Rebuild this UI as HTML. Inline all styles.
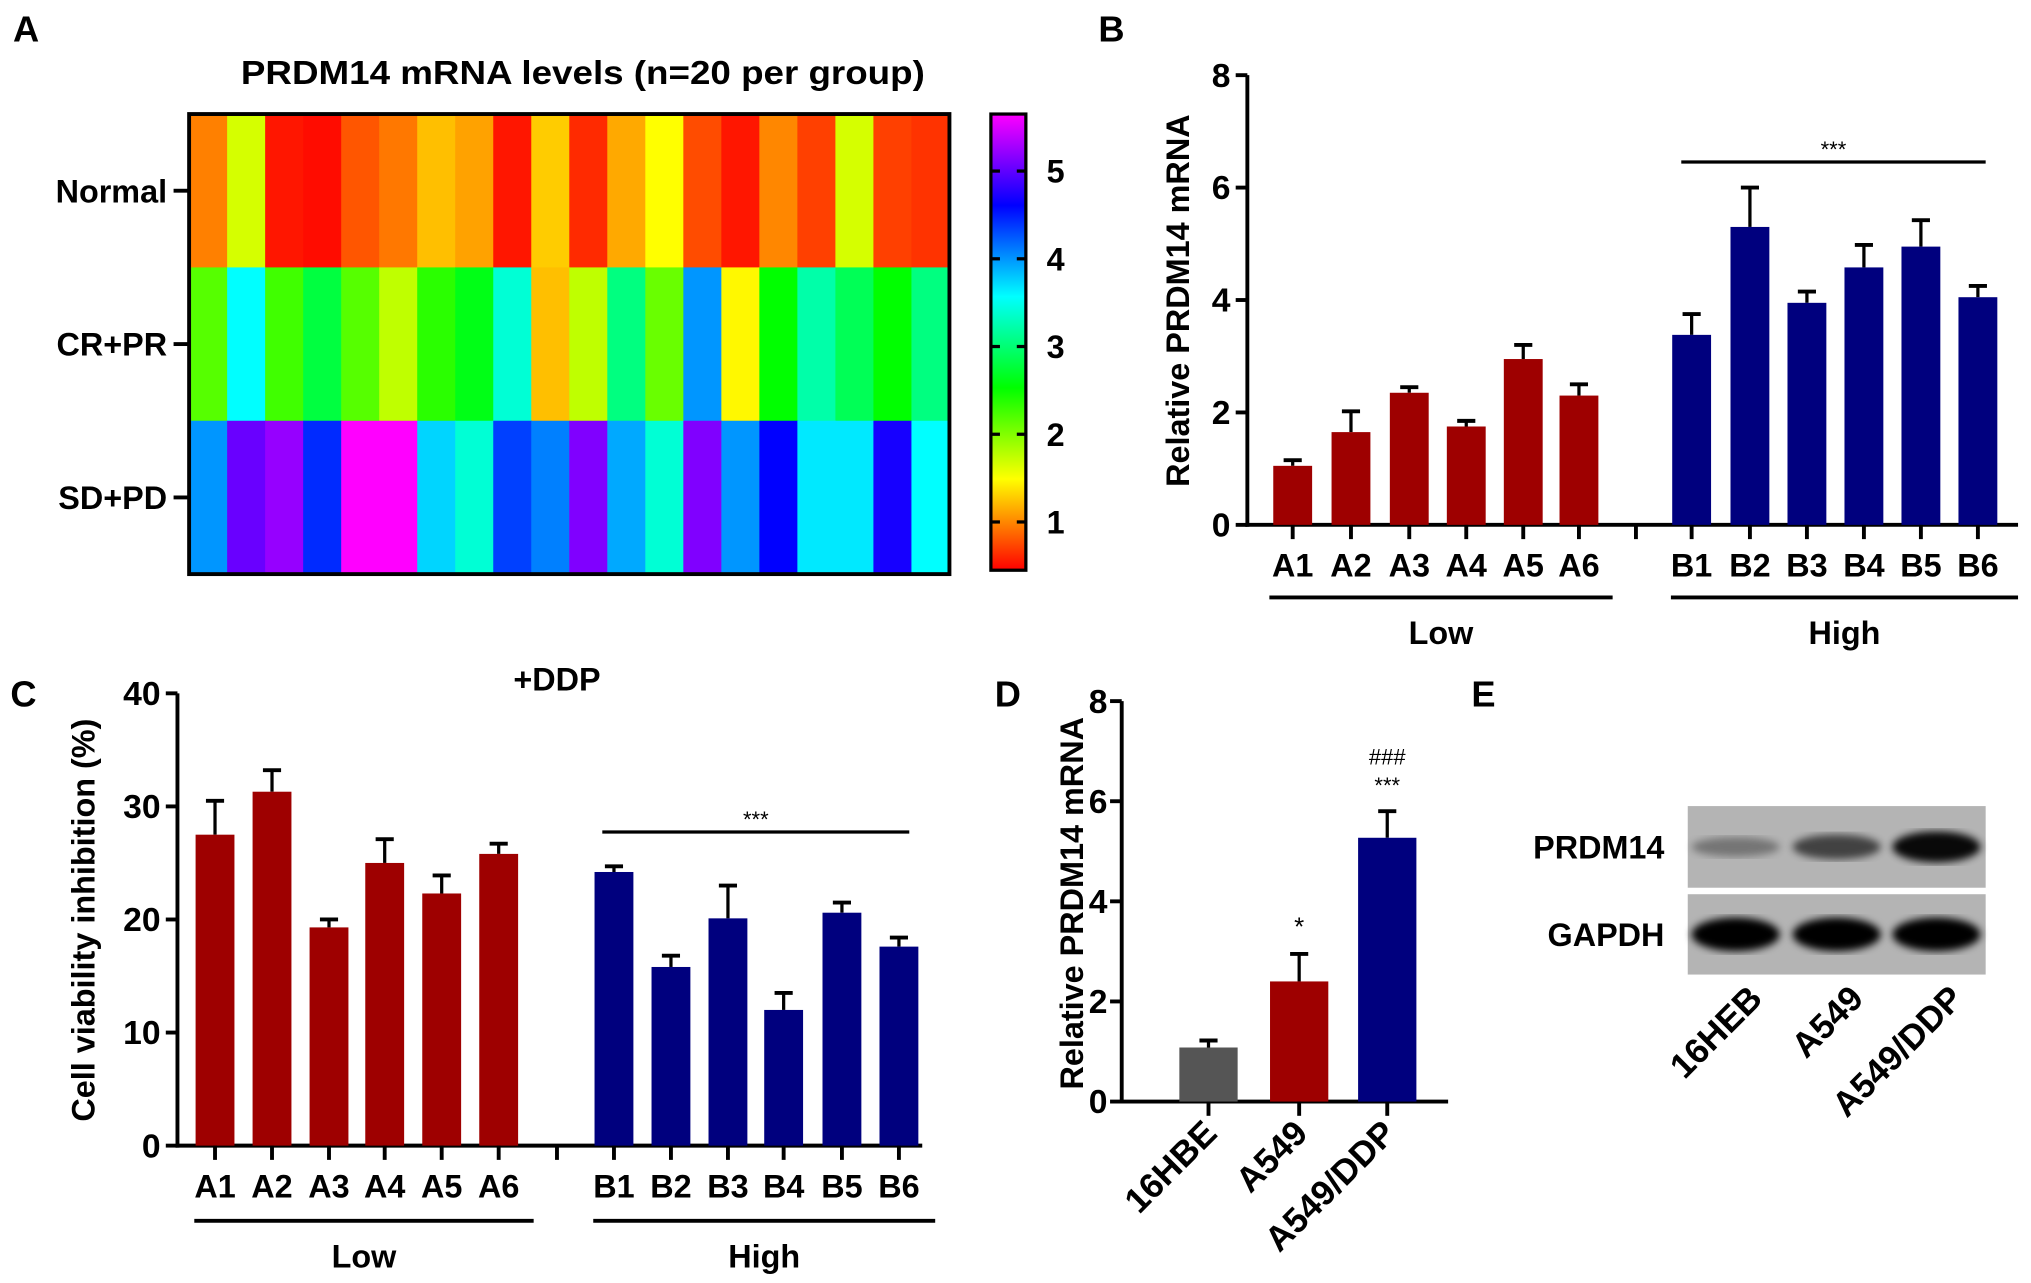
<!DOCTYPE html>
<html><head><meta charset="utf-8">
<style>
html,body{margin:0;padding:0;background:#fff;}
svg{display:block;font-family:"Liberation Sans",Arial,sans-serif;font-weight:bold;}
</style></head>
<body>
<svg id="fig" width="2031" height="1283" viewBox="0 0 1568 990" preserveAspectRatio="none" xmlns="http://www.w3.org/2000/svg">
<g id="pA"></g>
<g id="pB"></g>
<g id="pC"></g>
<g id="pD"></g>
<g id="pE"></g>
</svg>
<script>
// ---- Panel A data ----
const heatRows = ["Normal","CR+PR","SD+PD"];
const heatNormal = [0.97,1.66,0.54,0.5,0.8,0.94,1.23,1.11,0.54,1.28,0.62,1.14,1.49,0.76,0.54,1.0,0.71,1.66,0.71,0.66];
const heatCRPR = [2.18,3.57,2.27,2.79,2.18,1.75,2.36,2.62,3.4,1.23,1.75,3.05,2.1,4.0,1.46,2.53,3.22,2.88,2.53,3.05];
const heatSDPD = [4.0,5.04,5.22,4.44,5.65,5.65,3.74,3.4,4.35,4.09,5.13,3.92,3.4,5.13,4.0,4.61,3.66,3.66,4.7,3.57];
const cbarTicks = [1,2,3,4,5];
// ---- Panel B data ----
const bCats = ["A1","A2","A3","A4","A5","A6","B1","B2","B3","B4","B5","B6"];
const bVals = [1.05,1.65,2.35,1.75,2.95,2.3,3.38,5.3,3.95,4.58,4.95,4.05];
const bErr = [1.15,2.02,2.45,1.85,3.2,2.5,3.75,6.0,4.15,4.98,5.42,4.25];
const bTicks = [0,2,4,6,8];
// ---- Panel C data ----
const cCats = ["A1","A2","A3","A4","A5","A6","B1","B2","B3","B4","B5","B6"];
const cVals = [27.5,31.3,19.3,25,22.3,25.8,24.2,15.8,20.1,12,20.6,17.6];
const cErr = [30.5,33.2,20,27.1,23.9,26.7,24.7,16.8,23,13.5,21.5,18.4];
const cTicks = [0,10,20,30,40];
// ---- Panel D data ----
const dCats = ["16HBE","A549","A549/DDP"];
const dVals = [1.08,2.4,5.27];
const dErr = [1.22,2.95,5.8];
const dTicks = [0,2,4,6,8];
const dMarks = [[],["*"],["***","###"]];
// ---- Panel E data ----
const eLanes = ["16HEB","A549","A549/DDP"];
const ePrdm = [0.25,0.6,1.0];
const eGapdh = [1,1,1];

const NS="http://www.w3.org/2000/svg";
function mk(parent,tag,attrs,text){const e=document.createElementNS(NS,tag);for(const k in attrs)e.setAttribute(k,attrs[k]);if(text!==undefined)e.textContent=text;parent.appendChild(e);return e;}
const RED="#9e0000",BLUE="#00007e";

// ---------- Panel A ----------
(function(){
const g=document.getElementById('pA');
let t;
t=mk(g,'text',{x:10,y:32,'font-size':28});t.textContent='A';

t=mk(g,'text',{x:186,y:65,'font-size':26,textLength:528,lengthAdjust:'spacingAndGlyphs'});t.textContent='PRDM14 mRNA levels (n=20 per group)';

const X0=146,X1=733,Y0=88,Y1=443;
const rows=[heatNormal,heatCRPR,heatSDPD];
const cw=(X1-X0)/20,rh=(Y1-Y0)/3;
const vmin=0.45,vmax=5.65;
function col(v){const h=Math.max(0,Math.min(300,(v-vmin)/(vmax-vmin)*300));return `hsl(${h},100%,50%)`;}
rows.forEach((r,ri)=>{r.forEach((v,ci)=>{
 const c=mk(g,'rect',{x:X0+ci*cw,y:Y0+ri*rh,width:cw+0.6,height:rh+0.6,fill:col(v)});
 
});
 const yc=Y0+(ri+0.5)*rh;
 const l=mk(g,'text',{x:129,y:yc+9,'font-size':25,'text-anchor':'end'},heatRows[ri]);
 
 mk(g,'line',{x1:134,x2:146,y1:yc,y2:yc,stroke:'#000','stroke-width':3});
});
const b=mk(g,'rect',{x:X0,y:Y0,width:X1-X0,height:Y1-Y0,fill:'none',stroke:'#000','stroke-width':3});

const CX=765,CW=27,CY0=88,CY1=440;
const defs=mk(g,'defs',{});const lg=mk(defs,'linearGradient',{id:'cb',x1:0,y1:1,x2:0,y2:0});
for(let i=0;i<=10;i++)mk(lg,'stop',{offset:i/10,'stop-color':`hsl(${i*30},100%,50%)`});
const cb=mk(g,'rect',{x:CX,y:CY0,width:CW,height:CY1-CY0,fill:'url(#cb)',stroke:'#000','stroke-width':2.5});

const cy=v=>CY1-(v-vmin)/(vmax-vmin)*(CY1-CY0);
cbarTicks.forEach(v=>{
 mk(g,'line',{x1:CX,x2:CX+7,y1:cy(v),y2:cy(v),stroke:'#000','stroke-width':2.5});
 mk(g,'line',{x1:CX+CW-7,x2:CX+CW,y1:cy(v),y2:cy(v),stroke:'#000','stroke-width':2.5});
 const tl=mk(g,'text',{x:808,y:cy(v)+9,'font-size':25},String(v));
 
});
})();

function barChart(g,o){
 const ys=v=>o.y0-(v-o.tmin)/(o.tmax-o.tmin)*(o.y0-o.y1);
 mk(g,'line',{x1:o.ax,x2:o.ax,y1:o.y1,y2:o.y0+1.5,stroke:'#000','stroke-width':3});
 mk(g,'line',{x1:o.ax-1.5,x2:o.xend,y1:o.y0,y2:o.y0,stroke:'#000','stroke-width':3});
 o.ticks.forEach(v=>{
  mk(g,'line',{x1:o.ax-9,x2:o.ax,y1:ys(v),y2:ys(v),stroke:'#000','stroke-width':3});
  const tl=mk(g,'text',{x:o.ax-(o.tickOff||13),y:ys(v)+9,'font-size':26,'text-anchor':'end'},String(v));
  
 });
 o.cats.forEach((c,i)=>{
  const cx=o.xs[i];
  const col=o.colors[i];
  mk(g,'line',{x1:cx,x2:cx,y1:ys(o.err[i]),y2:ys(o.vals[i]),stroke:'#000','stroke-width':2.5});
  mk(g,'line',{x1:cx-7,x2:cx+7,y1:ys(o.err[i]),y2:ys(o.err[i]),stroke:'#000','stroke-width':3});
  const r=mk(g,'rect',{x:cx-o.bw/2,y:ys(o.vals[i]),width:o.bw,height:o.y0-ys(o.vals[i]),fill:col});
  
  mk(g,'line',{x1:cx,x2:cx,y1:o.y0,y2:o.y0+11,stroke:'#000','stroke-width':3});
  if(o.rot){
   const tl=mk(g,'text',{x:cx+8,y:o.y0+26,'font-size':27,'text-anchor':'end',transform:`rotate(-45 ${cx+8} ${o.y0+26})`},c);
   
  } else {
   const tl=mk(g,'text',{x:cx,y:o.labY,'font-size':25,'text-anchor':'middle'},c);
   
  }
 });
 if(o.midTick)mk(g,'line',{x1:o.midTick,x2:o.midTick,y1:o.y0,y2:o.y0+11,stroke:'#000','stroke-width':3});
 return ys;
}
function groupLabels(g,o){
 [[o.lowX,'Low'],[o.highX,'High']].forEach(([r,n])=>{
  mk(g,'line',{x1:r[0],x2:r[1],y1:o.uy,y2:o.uy,stroke:'#000','stroke-width':3});
  const t=mk(g,'text',{x:(r[0]+r[1])/2,y:o.uy+36,'font-size':25,'text-anchor':'middle'},n);
  
 });
 mk(g,'line',{x1:o.sig[0],x2:o.sig[1],y1:o.sig[2],y2:o.sig[2],stroke:'#000','stroke-width':2.5});
 const s=mk(g,'text',{x:(o.sig[0]+o.sig[1])/2,y:o.sig[2]-4,'font-size':17,'text-anchor':'middle','font-weight':'normal'},'***');
 
}
function colorsFor(cats){return cats.map(c=>c[0]==='A'?RED:BLUE);}

(function(){
const g=document.getElementById('pB');
let t=mk(g,'text',{x:848,y:32,'font-size':28},'B');
barChart(g,{ax:963,y0:405,y1:58,tmin:0,tmax:8,ticks:bTicks,xend:1558,cats:bCats,vals:bVals,err:bErr,bw:30,
 xs:[998,1043,1088,1132,1176,1219,1306,1351,1395,1439,1483,1527],colors:colorsFor(bCats),labY:445,midTick:1263});
groupLabels(g,{lowX:[980,1245],highX:[1290,1558],uy:461,sig:[1298,1533,125]});
t=mk(g,'text',{x:0,y:0,'font-size':25,'text-anchor':'middle',transform:'translate(918,232) rotate(-90)'},'Relative PRDM14 mRNA');

})();

(function(){
const g=document.getElementById('pC');
let t=mk(g,'text',{x:8,y:545,'font-size':28},'C');
barChart(g,{ax:137,y0:884,y1:535,tmin:0,tmax:40,ticks:cTicks,xend:712,cats:cCats,vals:cVals,err:cErr,bw:30,
 xs:[166,210,254,297,341,385,474,518,562,605,650,694],colors:colorsFor(cCats),labY:924,midTick:430});
groupLabels(g,{lowX:[150,412],highX:[458,722],uy:942,sig:[465,702,642]});
t=mk(g,'text',{x:430,y:533,'font-size':25,'text-anchor':'middle'},'+DDP');
t=mk(g,'text',{x:0,y:0,'font-size':25,'text-anchor':'middle',transform:'translate(73,710) rotate(-90)'},'Cell viability inhibition (%)');

})();

(function(){
const g=document.getElementById('pD');
let t=mk(g,'text',{x:768,y:545,'font-size':28},'D');
const ys=barChart(g,{ax:866,y0:850,y1:541,tmin:0,tmax:8,ticks:dTicks,xend:1118,cats:dCats,vals:dVals,err:dErr,bw:45,
 xs:[933,1003,1071],colors:['#555555',RED,BLUE],rot:true,tickOff:11});
[933,1003,1071].forEach((x,i)=>{dMarks[i].forEach((m,j)=>{
 const s=mk(g,'text',{x:x,y:ys(dErr[i])-14-j*22,'font-size':m==='*'?20:17,'text-anchor':'middle','font-weight':'normal'},m);
 
});});
t=mk(g,'text',{x:0,y:0,'font-size':25,'text-anchor':'middle',transform:'translate(836,697) rotate(-90)'},'Relative PRDM14 mRNA');

})();

(function(){
const g=document.getElementById('pE');
let t=mk(g,'text',{x:1136,y:545,'font-size':28},'E');
const defs=mk(g,'defs',{});mk(mk(defs,'filter',{id:'blur'}),'feGaussianBlur',{stdDeviation:3});
const lanes=[1340,1418,1495];
[[622,685,ePrdm,'PRDM14'],[690,752,eGapdh,'GAPDH']].forEach(([y0,y1,arr,name])=>{
 const r=mk(g,'rect',{x:1303,y:y0,width:230,height:y1-y0,fill:'#b4b4b4'});
 
 arr.forEach((v,i)=>{
  const b=mk(g,'ellipse',{cx:lanes[i],cy:(y0+y1)/2,rx:34,ry:name==='GAPDH'?13:6+v*6,fill:'#000',opacity:name==='GAPDH'?1:0.15+v*0.8,filter:'url(#blur)'});
  
 });
 const l=mk(g,'text',{x:1285,y:(y0+y1)/2+9,'font-size':25,'text-anchor':'end'},name);
 
});
eLanes.forEach((n,i)=>{
 const x=lanes[i]+22,y=772;
 const l=mk(g,'text',{x:x,y:y,'font-size':27,'text-anchor':'end',transform:`rotate(-45 ${x} ${y})`},n);
 
});
})();
</script>
</body></html>
